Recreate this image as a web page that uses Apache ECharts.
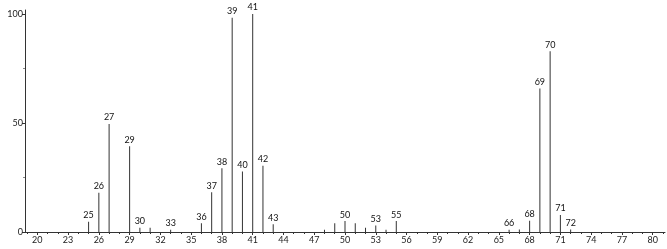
<!DOCTYPE html>
<html>
<head>
<meta charset="utf-8">
<script src="https://cdn.jsdelivr.net/npm/echarts@6/dist/echarts.min.js"></script>
<style>html,body{margin:0;padding:0;background:#fff}#c{width:667px;height:249px}</style>
</head>
<body>
<div id="c"></div>
<script>
// m/z values and relative intensities (%)
var mz =        [25, 26, 27, 29, 30, 31, 33, 36, 37, 38, 39, 40, 41, 42, 43, 48, 49, 50, 51, 52, 53, 54, 55, 66, 67, 68, 69, 70, 71, 72];
var intensity = [4.7, 18, 49.5, 39.3, 2, 2, 1, 4, 18.2, 29.2, 98.3, 27.7, 100, 30.4, 3.5, 1, 4, 5, 4, 2, 3, 1, 5, 1, 1.2, 5.2, 65.8, 82.9, 7.8, 1.2];
var labeledPeaks = [25, 26, 27, 29, 30, 33, 36, 37, 38, 39, 40, 41, 42, 43, 50, 53, 55, 66, 68, 69, 70, 71, 72];
var xTickLabels = [20, 23, 26, 29, 32, 35, 38, 41, 44, 47, 50, 53, 56, 59, 62, 65, 68, 71, 74, 77, 80];
var yTickLabels = [0, 50, 100];
var yMinorTicks = [25, 75];

var xMinor = [];
for (var i = 19; i <= 81; i++) { if (xTickLabels.indexOf(i) < 0) xMinor.push(i); }

var font = 'Lato, "DejaVu Sans", sans-serif';
var axisColor = '#333';
var chart = echarts.init(document.getElementById('c'));
var data = mz.map(function (m, i) { return [m, intensity[i]]; });

chart.setOption({
  animation: false,
  grid: { left: 25, right: 2, top: 10, bottom: 17 },
  xAxis: [{
    type: 'value', min: 18.8, max: 81.2,
    splitLine: { show: false },
    axisLine: { lineStyle: { color: axisColor, width: 1 } },
    axisTick: { customValues: xTickLabels, length: 3, lineStyle: { color: axisColor } },
    axisLabel: { customValues: xTickLabels, fontSize: 9, color: '#222', margin: 4, fontFamily: font }
  }, {
    type: 'value', min: 18.8, max: 81.2, position: 'bottom',
    splitLine: { show: false },
    axisLine: { show: false },
    axisTick: { customValues: xMinor, length: 2, lineStyle: { color: axisColor } },
    axisLabel: { show: false }
  }],
  yAxis: [{
    type: 'value', min: 0, max: 101.8,
    splitLine: { show: false },
    axisLine: { show: true, lineStyle: { color: axisColor, width: 1 } },
    axisTick: { show: true, customValues: yTickLabels, length: 3, lineStyle: { color: axisColor } },
    axisLabel: { customValues: yTickLabels, fontSize: 9, color: '#222', margin: 2, fontFamily: font }
  }, {
    type: 'value', min: 0, max: 101.8, position: 'left',
    splitLine: { show: false },
    axisLine: { show: false },
    axisTick: { show: true, customValues: yMinorTicks, length: 2, lineStyle: { color: '#888' } },
    axisLabel: { show: false }
  }],
  series: [{
    type: 'bar',
    barWidth: 1,
    data: data,
    itemStyle: { color: '#333' },
    label: {
      show: true, position: 'top', distance: 2,
      fontSize: 9, color: '#111', fontFamily: font,
      formatter: function (p) { return labeledPeaks.indexOf(p.value[0]) >= 0 ? String(p.value[0]) : ''; }
    }
  }]
});
</script>
</body>
</html>
